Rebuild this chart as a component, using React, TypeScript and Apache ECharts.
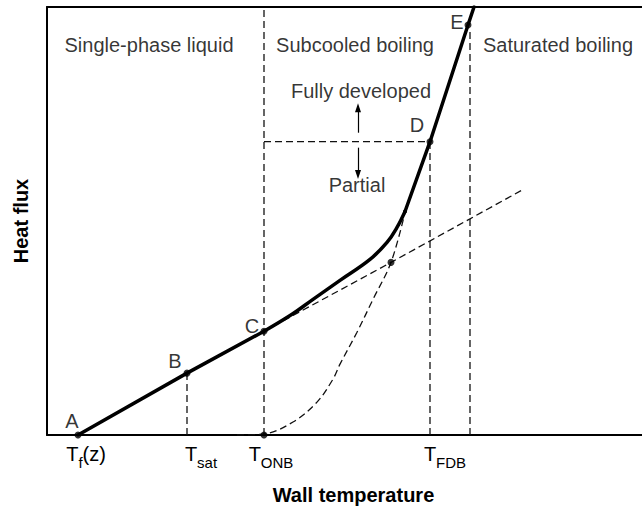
import React, { useEffect, useRef } from "react";
import * as echarts from "echarts";

// Schematic units: x = wall temperature (arbitrary), y = heat flux (arbitrary)
const X_MAX = 595;
const Y_MAX = 429;

// Tick labels on the wall-temperature axis
const tickValues = [39, 154, 224, 398];
const tickLabels = ["{m|T}{s|f}{m|(z)}", "{m|T}{s|sat}", "{m|T}{s|ONB}", "{m|T}{s|FDB}"];

// Key points on the boiling curve
const keyPointNames = ["A", "B", "C", "D", "E"];
const keyPointX = [31, 140, 217, 383, 421];
const keyPointY = [0, 62, 104, 294, 411];

// Heavy boiling curve (three parts)
const singlePhaseCurve = [[31, 0], [140, 62], [217, 104]];
const partialBoilingCurve = [[217, 104], [245, 121], [266, 136], [293, 155], [323, 176], [340, 193], [350, 208], [358, 224]];
const fullyDevelopedCurve = [[358, 224], [383, 294], [421, 411], [427, 429]];

// Dashed construction curves
const singlePhaseExtension = [[217, 104], [344, 173], [476, 246]];
const nucleateBoilingCurve = [[190, 0], [217, 1], [246, 13], [270, 33], [286, 56], [293, 71], [310, 103], [326, 136], [344, 173], [358, 223]];

// Dashed guide lines
const tSatGuide = [[140, 0], [140, 62]];
const tOnbGuide = [[217, 0], [217, 429]];
const tFdbGuide = [[383, 0], [383, 294]];
const saturationGuide = [[423, 0], [423, 408]];
const fdbLevelGuide = [[217, 294], [383, 294]];

// Extra dots: onset of nucleate boiling, intersection, tangent point
const onbPoint = [217, 0];
const intersectionPoint = [344, 173];
const tangentPoint = [358, 224];

// Annotations
const regionTexts = ["Single-phase liquid", "Subcooled boiling", "Saturated boiling", "Fully developed", "Partial"];
const regionAnchors = [[102, 391], [308, 391], [511, 391], [314, 345], [310, 251]];

// Arrows: [from, to]
const upArrow = [[311, 303], [311, 328]];
const downArrow = [[311, 288], [311, 261]];

const FONT = "'Liberation Sans', Arial, Helvetica, sans-serif";
const letterOffsets = [[-6, -14], [-12, -12], [-12, -5], [-13, -17], [-11, -3]];

export default function App() {
  const ref = useRef<HTMLDivElement>(null);
  useEffect(() => {
    if (!ref.current) return;
    const chart = echarts.init(ref.current, undefined, { renderer: "svg" });

    const dashed = (data: number[][], smooth = false) => ({
      type: "line",
      data,
      smooth,
      symbol: "none",
      silent: true,
      z: 2,
      lineStyle: { color: "#111", width: 1.3, type: [7, 4] },
    });
    const heavy = (data: number[][], smooth: number | boolean = false) => ({
      type: "line",
      data,
      smooth,
      symbol: "none",
      silent: true,
      z: 4,
      lineStyle: { color: "#000", width: 3.5, cap: "round", join: "round" },
    });

    const option: any = {
      animation: false,
      grid: { left: 47, right: 0, top: 7, bottom: 74 },
      xAxis: [
        {
          type: "value",
          min: 0,
          max: X_MAX,
          position: "bottom",
          axisLine: { show: true, lineStyle: { color: "#000", width: 2 } },
          axisTick: { show: false },
          splitLine: { show: false },
          axisLabel: {
            customValues: tickValues,
            margin: 9,
            formatter: (v: number) => {
              const i = tickValues.indexOf(v);
              return i >= 0 ? tickLabels[i] : "";
            },
            rich: {
              m: { fontSize: 20, lineHeight: 26, verticalAlign: "top", color: "#000", fontFamily: FONT },
              s: { fontSize: 15, lineHeight: 26, verticalAlign: "bottom", color: "#000", fontFamily: FONT },
            },
          },
          name: "Wall temperature",
          nameLocation: "middle",
          nameGap: 50,
          nameTextStyle: { fontSize: 20, fontWeight: "bold", color: "#000", fontFamily: FONT, padding: [0, 0, 0, 18] },
        },
        {
          type: "value",
          min: 0,
          max: X_MAX,
          position: "top",
          axisLine: { show: true, lineStyle: { color: "#000", width: 2 } },
          axisTick: { show: false },
          axisLabel: { show: false },
          splitLine: { show: false },
        },
      ],
      yAxis: {
        type: "value",
        min: 0,
        max: Y_MAX,
        axisLine: { show: true, lineStyle: { color: "#000", width: 2 } },
        axisTick: { show: false },
        axisLabel: { show: false },
        splitLine: { show: false },
        name: "Heat flux",
        nameLocation: "middle",
        nameGap: 16,
        nameTextStyle: { fontSize: 20, fontWeight: "bold", color: "#000", fontFamily: FONT },
      },
      series: [
        dashed(tSatGuide),
        dashed(tOnbGuide),
        dashed(tFdbGuide),
        dashed(saturationGuide),
        dashed(fdbLevelGuide),
        dashed(singlePhaseExtension),
        { ...dashed(nucleateBoilingCurve), smooth: 0.35 },
        heavy(singlePhaseCurve),
        heavy(partialBoilingCurve, 0.4),
        heavy(fullyDevelopedCurve),
        {
          type: "scatter",
          silent: true,
          z: 6,
          symbolSize: 7,
          itemStyle: { color: "#000" },
          data: keyPointNames.map((n, i) => ({
            name: n,
            value: [keyPointX[i], keyPointY[i]],
            label: {
              show: true,
              position: "inside",
              offset: letterOffsets[i],
              formatter: n,
              fontSize: 20,
              color: "#000",
              fontFamily: FONT,
            },
          })),
        },
        {
          type: "scatter",
          silent: true,
          z: 6,
          symbolSize: 7,
          itemStyle: { color: "#000" },
          data: [onbPoint, intersectionPoint],
        },
        {
          type: "scatter",
          silent: true,
          z: 6,
          symbolSize: 4,
          itemStyle: { color: "#000" },
          data: [tangentPoint],
        },
        {
          type: "scatter",
          silent: true,
          z: 7,
          symbolSize: 0,
          data: regionTexts.map((t, i) => ({
            value: regionAnchors[i],
            label: {
              show: true,
              position: "inside",
              formatter: t,
              fontSize: 20,
              color: "#000",
              fontFamily: FONT,
            },
          })),
        },
        {
          type: "line",
          data: [],
          silent: true,
          markLine: {
            silent: true,
            animation: false,
            symbol: ["none", "triangle"],
            symbolSize: [6, 9],
            label: { show: false },
            lineStyle: { color: "#000", width: 1.2, type: "solid" },
            data: [
              [{ coord: upArrow[0] }, { coord: upArrow[1] }],
              [{ coord: downArrow[0] }, { coord: downArrow[1] }],
            ],
          },
        },
      ],
    };
    chart.setOption(option);
    return () => chart.dispose();
  }, []);

  return (
    <div
      ref={ref}
      style={{ position: "fixed", left: 0, top: 0, width: 642, height: 510, background: "#fff" }}
    />
  );
}
